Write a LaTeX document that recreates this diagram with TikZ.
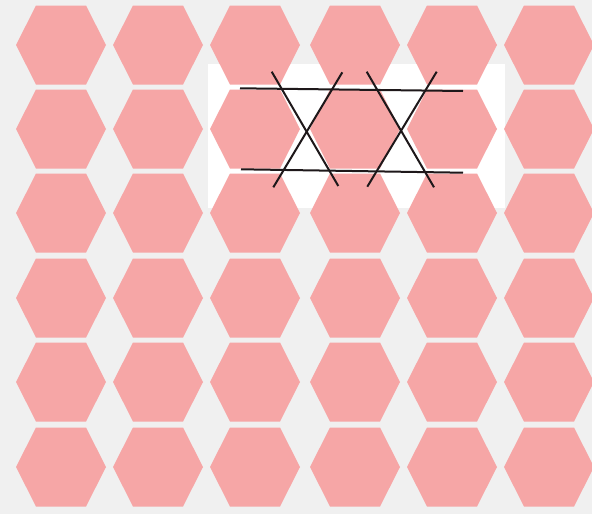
\documentclass[tikz,border=0pt]{standalone}
\definecolor{hexpink}{RGB}{246,166,166}
\definecolor{bggray}{RGB}{240,240,240}
\definecolor{inkline}{RGB}{30,24,26}
\begin{document}
\begin{tikzpicture}[x=1pt,y=-1pt,
  hexfill/.style={fill=hexpink},
  ln/.style={line width=2pt, draw=inkline}]
\fill[bggray] (0,0) rectangle (592,514);
\useasboundingbox (0,0) rectangle (592,514);
\fill[white] (208,64) rectangle (505,208);
\foreach \cx in {61,158,255,355,452,549}{
  \foreach \cy in {45,129,213,298,382,467}{
    \fill[hexfill] (\cx-45,\cy) -- (\cx-25,\cy-39.5) -- (\cx+25,\cy-39.5)
      -- (\cx+45,\cy) -- (\cx+25,\cy+39.5) -- (\cx-25,\cy+39.5) -- cycle;
  }
}
% horizontal lines
\coordinate (t1) at (240,88.3);
\coordinate (t2) at (463,91);
\coordinate (b1) at (241,169.3);
\coordinate (b2) at (463,172.7);
% diagonals
\coordinate (a1) at (271.7,71.7);
\coordinate (a2) at (338.3,186);
\coordinate (c1) at (342.3,72.3);
\coordinate (c2) at (273.3,187.3);
\coordinate (d1) at (366.7,71.7);
\coordinate (d2) at (434,187.3);
\coordinate (e1) at (436.7,71.7);
\coordinate (e2) at (367.3,186.7);
\draw[ln] (t1) -- (t2);
\draw[ln] (b1) -- (b2);
\draw[ln] (a1) -- (a2);
\draw[ln] (c1) -- (c2);
\draw[ln] (d1) -- (d2);
\draw[ln] (e1) -- (e2);
\end{tikzpicture}
\end{document}
